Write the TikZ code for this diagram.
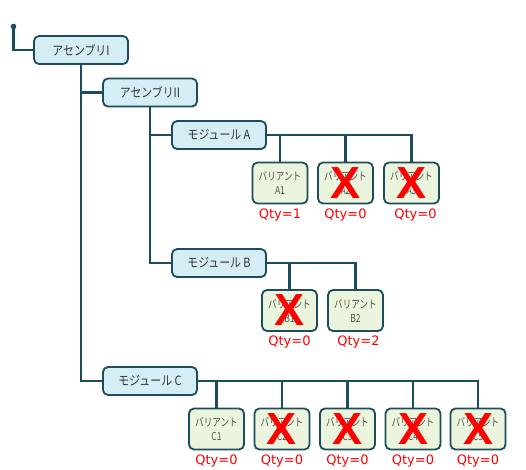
\documentclass[tikz,border=0pt]{standalone}
\usepackage{fontspec}
\usetikzlibrary{positioning}
\setmainfont{Noto Sans CJK JP}
\newfontfamily\jpfont[FakeStretch=0.85]{Noto Sans CJK JP}
\newfontfamily\jpleaffont[FakeStretch=0.78]{Noto Sans CJK JP}
\newfontfamily\qtyfont{DejaVu Sans}
\newfontfamily\crossfont{Liberation Sans}
\definecolor{edgecol}{HTML}{1D4D5C}
\definecolor{asmfill}{HTML}{D5EEF5}
\definecolor{leaffill}{HTML}{EBF4DC}
\definecolor{boxtext}{HTML}{333333}
\definecolor{leaftext}{HTML}{505050}
\begin{document}
\begin{tikzpicture}[x=1pt,y=-1pt]
\tikzset{box/.style={draw=edgecol, line width=1.8pt, rounded corners=5pt, fill=asmfill,
    minimum width=94pt, minimum height=28pt, text=boxtext, font=\jpfont\fontsize{12.8}{14}\selectfont},
  leaf/.style={box, fill=leaffill, minimum width=55pt, minimum height=41pt, align=center,
    text=leaftext, font=\jpleaffont\fontsize{11}{14}\selectfont},
  link/.style={draw=edgecol, line width=2.2pt},
  qty/.style={text=red, inner sep=0pt, font=\qtyfont\fontsize{13}{13}\selectfont},
  cross/.style={text=red, inner sep=0pt, font=\crossfont\bfseries\fontsize{45}{45}\selectfont}}
\useasboundingbox (0,0) rectangle (526,469);

\coordinate (root) at (13.5,26.5);
\node[box] (asm1) at (81,50) {アセンブリI};
\node[box] (asm2) at (150,92.5) {アセンブリII};
\node[box] (modA) at (219,135) {モジュール A};
\node[box] (modB) at (219,263) {モジュール B};
\node[box] (modC) at (150,381) {モジュール C};

% leaves of A
\node[leaf] (a1) at (280,183) {バリアント\\A1};
\node[leaf] (a2) at (345.5,183) {バリアント\\A2};
\node[leaf] (a3) at (411.5,183) {バリアント\\A3};
% leaves of B
\node[leaf] (b1) at (289.5,310.5) {バリアント\\B1};
\node[leaf] (b2) at (355.5,310.5) {バリアント\\B2};
% leaves of C
\node[leaf] (c1) at (216.5,429) {バリアント\\C1};
\node[leaf] (c2) at (282,429) {バリアント\\C2};
\node[leaf] (c3) at (347.5,429) {バリアント\\C3};
\node[leaf] (c4) at (413,429) {バリアント\\C4};
\node[leaf] (c5) at (478,429) {バリアント\\C5};

\fill[edgecol] (root) circle (2.8pt);
\draw[link] (root) |- (asm1.west);
\draw[link] (asm1.south) |- (asm2.west);
\draw[link] (asm1.south) |- (modC.west);
\draw[link] (asm2.south) |- (modA.west);
\draw[link] (asm2.south) |- (modB.west);
\foreach \n in {a1,a2,a3} \draw[link] (modA.east) -| (\n.north);
\foreach \n in {b1,b2} \draw[link] (modB.east) -| (\n.north);
\foreach \n in {c1,c2,c3,c4,c5} \draw[link] (modC.east) -| (\n.north);

\foreach \n in {a2,a3,b1,c2,c3,c4,c5} \node[cross] at (\n) {X};

\node[qty, below=4pt of a1] (qa1) {Qty=1};
\node[qty, below=4pt of a2] (qa2) {Qty=0};
\node[qty, below=4pt of a3, xshift=4pt] (qa3) {Qty=0};
\node[qty, below=4pt of b1] (qb1) {Qty=0};
\node[qty, below=4pt of b2, xshift=3pt] (qb2) {Qty=2};
\node[qty, below=4pt of c1] (qc1) {Qty=0};
\node[qty, below=4pt of c2] (qc2) {Qty=0};
\node[qty, below=4pt of c3] (qc3) {Qty=0};
\node[qty, below=4pt of c4] (qc4) {Qty=0};
\node[qty, below=4pt of c5] (qc5) {Qty=0};
\end{tikzpicture}
\end{document}
